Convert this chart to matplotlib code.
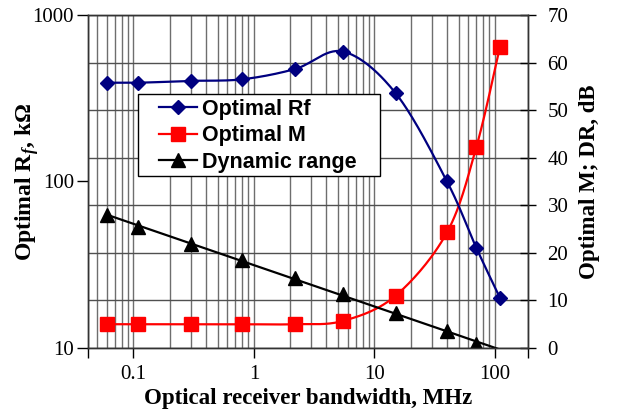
import numpy as np
import matplotlib
matplotlib.use("Agg")
import matplotlib.pyplot as plt
from matplotlib.lines import Line2D
from matplotlib.patches import Rectangle
from matplotlib.ticker import LogLocator, NullFormatter, FixedLocator

# -----------------------------------------------------------------------------
# Data
# -----------------------------------------------------------------------------
bandwidth = [0.06, 0.11, 0.3, 0.8, 2.2, 5.5, 15, 40, 70, 110]      # MHz
rf_opt = [392, 392, 402, 411, 474, 603, 339, 100, 40, 20]           # kOhm
m_opt = [5.0, 5.0, 5.0, 5.0, 5.0, 5.7, 11.0, 24.3, 42.2, 63.3]
dr_bw = [0.06, 0.11, 0.3, 0.8, 2.2, 5.5, 15, 40, 70]
dr = [28.0, 25.5, 21.8, 18.4, 14.7, 11.3, 7.4, 3.6, 0.8]            # dB

NAVY = "#000080"
RED = "#ff0000"


def smooth(x, y, log_y=False, n=30):
    # Excel-style smoothed line (Catmull-Rom Bezier) in axis space
    u = np.log10(np.asarray(x, float))
    v = np.log10(np.asarray(y, float)) if log_y else np.asarray(y, float)
    P = np.column_stack([u, v])
    P = np.vstack([P[0], P, P[-1]])
    t = np.linspace(0, 1, n)[:, None]
    segs = []
    for i in range(1, len(P) - 2):
        p0, p1, p2, p3 = P[i - 1], P[i], P[i + 1], P[i + 2]
        c1 = p1 + (p2 - p0) / 6
        c2 = p2 - (p3 - p1) / 6
        segs.append((1 - t) ** 3 * p1 + 3 * (1 - t) ** 2 * t * c1
                    + 3 * (1 - t) * t ** 2 * c2 + t ** 3 * p2)
    S = np.vstack(segs)
    xs = 10 ** S[:, 0]
    ys = 10 ** S[:, 1] if log_y else S[:, 1]
    return xs, ys


plt.rcParams["font.family"] = "Liberation Serif"
plt.rcParams["mathtext.fontset"] = "custom"
plt.rcParams["mathtext.rm"] = "Liberation Serif:bold"
plt.rcParams["mathtext.it"] = "Liberation Serif:italic:bold"
plt.rcParams["mathtext.bf"] = "Liberation Serif:bold"

fig = plt.figure(figsize=(6.17, 4.11), dpi=100)
# ax (linear, right side) holds the grid, M and DR; axl (log, left side) holds Rf
ax = fig.add_axes([88 / 617, 63 / 411, 440 / 617, 333 / 411])
axl = ax.twinx()

xmin, xmax = 0.042, 188
ax.set_xscale("log")
ax.set_xlim(xmin, xmax)
ax.set_ylim(0, 70)
axl.set_yscale("log")
axl.set_ylim(10, 1000)

ax.yaxis.tick_right()
ax.yaxis.set_label_position("right")
axl.yaxis.tick_left()
axl.yaxis.set_label_position("left")

ax.set_yticks(np.arange(0, 71, 10))
ax.tick_params(axis="y", direction="inout", length=12, width=1, pad=8,
               labelsize=15, right=True, left=False)

ax.xaxis.set_major_locator(FixedLocator([xmin, 0.1, 1, 10, 100, xmax]))
ax.set_xticklabels(["", "0.1", "1", "10", "100", ""])
ax.xaxis.set_minor_locator(LogLocator(base=10, subs=np.arange(2, 10)))
ax.xaxis.set_minor_formatter(NullFormatter())
ax.tick_params(axis="x", which="major", direction="out", length=7, width=1,
               pad=5, labelsize=15)
ax.tick_params(axis="x", which="minor", length=0)

axl.set_yticks([10, 100, 1000])
axl.set_yticklabels(["10", "100", "1000"])
axl.yaxis.set_minor_locator(plt.NullLocator())
axl.tick_params(axis="y", direction="out", length=8, width=1, pad=2,
                labelsize=15, left=True, right=False)

ax.grid(True, which="both", axis="x", color="#6e6e6e", linewidth=1)
ax.grid(True, which="major", axis="y", color="#505050", linewidth=1)
ax.set_axisbelow(True)

for a in (ax, axl):
    for s in a.spines.values():
        s.set_color("#333333")
        s.set_linewidth(1)

# Optimal M (smoothed)
mx, my = smooth(bandwidth, m_opt)
ax.plot(mx, my, color=RED, lw=1.6, zorder=3)
ax.plot(bandwidth, m_opt, ls="none", marker="s", ms=10, color=RED, zorder=4)

# Dynamic range with straight trendline
coef = np.polyfit(np.log10(dr_bw), dr, 1)
tx = np.array([dr_bw[0], bandwidth[-1]])
ax.plot(tx, np.polyval(coef, np.log10(tx)), color="black", lw=1.6, zorder=3)
ax.plot(dr_bw, dr, ls="none", marker="^", ms=10.5, color="black", zorder=4)

# Optimal Rf (smoothed, log axis)
rx, ry = smooth(bandwidth, rf_opt, log_y=True)
axl.plot(rx, ry, color=NAVY, lw=1.6, zorder=3)
axl.plot(bandwidth, rf_opt, ls="none", marker="D", ms=7.5, color=NAVY, zorder=4)

ax.set_xlabel("Optical receiver bandwidth, MHz", fontsize=16.5,
              fontweight="bold", labelpad=3)
ax.set_ylabel("Optimal M; DR, dB", fontsize=16.5, fontweight="bold",
              labelpad=8)
axl.set_ylabel("Optimal R$_{f}$, k\u03a9", fontsize=17, fontweight="bold",
               labelpad=-6)

# legend: white box with black frame, entries placed inside it
box = Rectangle((50 / 440, 172 / 333), 242 / 440, 82 / 333,
                transform=axl.transAxes, facecolor="white",
                edgecolor="black", linewidth=1, zorder=5)
axl.add_patch(box)

handles = [
    Line2D([], [], color=NAVY, lw=1.6, marker="D", ms=7.5),
    Line2D([], [], color=RED, lw=1.6, marker="s", ms=10),
    Line2D([], [], color="black", lw=1.6, marker="^", ms=10.5),
]
labels = ["Optimal Rf", "Optimal M", "Dynamic range"]
leg = axl.legend(handles, labels, loc="upper left",
                 bbox_to_anchor=(71 / 440, 249 / 333), borderaxespad=0,
                 prop={"family": "Liberation Sans", "weight": "bold",
                       "size": 15.5},
                 frameon=False, handlelength=1.75, handletextpad=0.25,
                 labelspacing=0.25, borderpad=0)
leg.set_zorder(6)

fig.savefig("out.png", dpi=100)
